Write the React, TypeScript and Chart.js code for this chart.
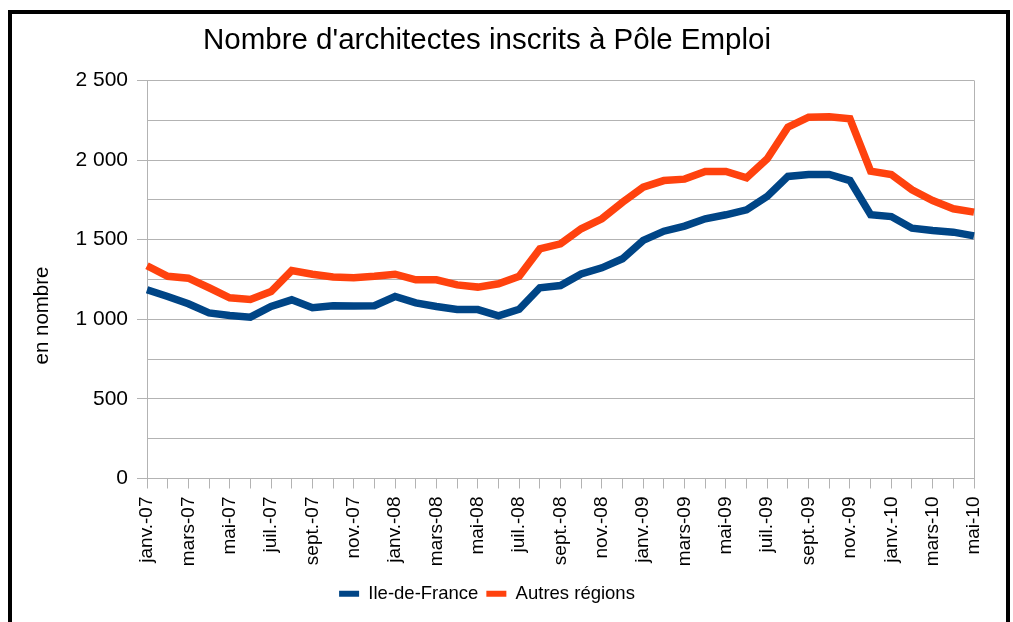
import React, { useEffect, useRef } from 'react';
import { Chart, registerables } from 'chart.js';

Chart.register(...registerables);

const chartTitle = "Nombre d'architectes inscrits à Pôle Emploi";
const yAxisTitle = 'en nombre';

const months = [
  'janv.-07', 'févr.-07', 'mars-07', 'avr.-07', 'mai-07', 'juin-07', 'juil.-07', 'août-07', 'sept.-07', 'oct.-07', 'nov.-07', 'déc.-07',
  'janv.-08', 'févr.-08', 'mars-08', 'avr.-08', 'mai-08', 'juin-08', 'juil.-08', 'août-08', 'sept.-08', 'oct.-08', 'nov.-08', 'déc.-08',
  'janv.-09', 'févr.-09', 'mars-09', 'avr.-09', 'mai-09', 'juin-09', 'juil.-09', 'août-09', 'sept.-09', 'oct.-09', 'nov.-09', 'déc.-09',
  'janv.-10', 'févr.-10', 'mars-10', 'avr.-10', 'mai-10',
];

const ileDeFrance = [
  1185, 1143, 1097, 1040, 1024, 1013, 1080, 1122, 1072, 1085, 1083, 1085,
  1143, 1103, 1080, 1061, 1061, 1022, 1063, 1198, 1212, 1285, 1323, 1380,
  1495, 1553, 1585, 1631, 1656, 1687, 1772, 1897, 1909, 1909, 1871, 1656,
  1645, 1572, 1557, 1547, 1524,
];

const autresRegions = [
  1336, 1270, 1258, 1198, 1135, 1124, 1174, 1306, 1283, 1266, 1260, 1270,
  1283, 1248, 1248, 1216, 1202, 1223, 1270, 1442, 1474, 1568, 1631, 1735,
  1829, 1871, 1880, 1928, 1928, 1888, 2008, 2206, 2269, 2271, 2259, 1930,
  1909, 1813, 1746, 1694, 1673,
];

const seriesNames = ['Ile-de-France', 'Autres régions'];
const yMin = 0;
const yMax = 2500;
const yStep = 250;
const yLabelStep = 500;

const FONT = '"Liberation Sans", Arial, sans-serif';
const GRID = '#b3b3b3';

function formatThousands(v: number): string {
  if (v >= 1000) {
    const th = Math.floor(v / 1000);
    const rest = String(v % 1000).padStart(3, '0');
    return `${th} ${rest}`;
  }
  return String(v);
}

const yTitlePlugin = {
  id: 'yTitlePlugin',
  afterDraw(chart: any) {
    const ctx = chart.ctx;
    const area = chart.chartArea;
    ctx.save();
    ctx.translate(chart.scales.y.left + 42, area.bottom - 163);
    ctx.rotate(-Math.PI / 2);
    ctx.font = `20.5px ${FONT}`;
    ctx.fillStyle = '#000';
    ctx.textAlign = 'center';
    ctx.textBaseline = 'middle';
    ctx.fillText(yAxisTitle, 0, 0);
    ctx.restore();
  },
};

export default function App() {
  const ref = useRef<HTMLCanvasElement>(null);

  useEffect(() => {
    if (!ref.current) return;
    Chart.defaults.font.family = FONT;
    const chart = new Chart(ref.current, {
      type: 'line',
      data: {
        labels: months,
        datasets: [
          {
            label: seriesNames[0],
            data: ileDeFrance,
            borderColor: '#004586',
            backgroundColor: '#004586',
            borderWidth: 7.5,
            pointRadius: 0,
            tension: 0,
          },
          {
            label: seriesNames[1],
            data: autresRegions,
            borderColor: '#ff420e',
            backgroundColor: '#ff420e',
            borderWidth: 7.5,
            pointRadius: 0,
            tension: 0,
          },
        ],
      },
      options: {
        responsive: false,
        animation: false,
        layout: { padding: { left: 0, right: 39, top: 23, bottom: 9 } },
        plugins: {
          title: {
            display: true,
            text: chartTitle,
            color: '#000',
            font: { size: 29.5, weight: 'normal', family: FONT },
            padding: { top: 0, bottom: 22 },
          },
          legend: {
            position: 'bottom',
            labels: {
              color: '#000',
              font: { size: 18.5, family: FONT },
              boxWidth: 20,
              boxHeight: 6,
              padding: 8,
              generateLabels: (c: any) =>
                (Chart.defaults.plugins.legend.labels as any).generateLabels(c).map((l: any) => ({ ...l, lineWidth: 0 })),
            },
          },
          tooltip: { enabled: false },
        },
        scales: {
          x: {
            grid: {
              drawOnChartArea: true,
              color: (ctx: any) => (ctx.index === months.length - 1 ? GRID : 'rgba(0,0,0,0)'),
              tickColor: GRID,
              tickLength: 10,
            },
            border: { color: GRID },
            ticks: {
              autoSkip: false,
              maxRotation: 90,
              minRotation: 90,
              color: '#000',
              font: { size: 19, family: FONT },
              padding: 8,
              callback: (_v: any, i: number) => (i % 2 === 0 ? months[i] : ''),
            },
            afterFit: (s: any) => {
              s.height = 98;
            },
          },
          y: {
            min: yMin,
            max: yMax,
            grid: {
              color: GRID,
              tickColor: (ctx: any) =>
                ctx.tick && ctx.tick.value % yLabelStep === 0 ? GRID : 'rgba(0,0,0,0)',
              tickLength: 10,
            },
            border: { color: GRID },
            ticks: {
              stepSize: yStep,
              color: '#000',
              font: { size: 21, family: FONT },
              padding: 9,
              callback: (v: any) => (Number(v) % yLabelStep === 0 ? formatThousands(Number(v)) : ''),
            },
            afterFit: (s: any) => {
              s.width = 147;
            },
          },
        },
      },
      plugins: [yTitlePlugin],
    } as any);
    return () => chart.destroy();
  }, []);

  return (
    <div style={{ position: 'fixed', left: 0, top: 0, width: 1013, height: 622, background: '#fff', overflow: 'hidden' }}>
      <div
        style={{
          position: 'absolute',
          left: 8,
          top: 10,
          width: 994,
          height: 700,
          border: '4px solid #000',
        }}
      />
      <canvas ref={ref} width={1013} height={622} style={{ position: 'absolute', left: 0, top: 0 }} />
    </div>
  );
}
